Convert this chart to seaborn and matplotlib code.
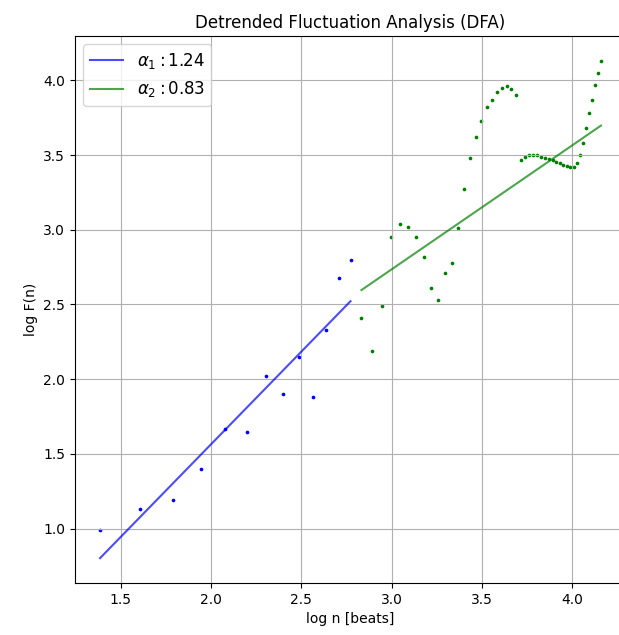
import numpy as np
import matplotlib
matplotlib.use("Agg")
import matplotlib.pyplot as plt
import seaborn as sns

# ---------------------------
# Data
# ---------------------------
# window sizes n, short range (alpha 1) and long range (alpha 2)
n_short = [4, 5, 6, 7, 8, 9, 10, 11, 12, 13, 14, 15, 16]
n_long = [17, 18, 19, 20, 21, 22, 23, 24, 25, 26, 27, 28, 29, 30, 31, 32,
          33, 34, 35, 36, 37, 38, 39, 40, 41, 42, 43, 44, 45, 46, 47, 48,
          49, 50, 51, 52, 53, 54, 55, 56, 57, 58, 59, 60, 61, 62, 63, 64]

logF_short = [0.99, 1.13, 1.19, 1.40, 1.67, 1.65, 2.02, 1.90, 2.15, 1.88,
              2.33, 2.68, 2.80]
logF_long = [2.41, 2.19, 2.49, 2.95, 3.04, 3.02, 2.95, 2.82, 2.61, 2.53,
             2.71, 2.78, 3.01, 3.27, 3.48, 3.62, 3.73, 3.82, 3.87, 3.92,
             3.95, 3.96, 3.94, 3.90, 3.47, 3.49, 3.50, 3.50, 3.50, 3.49,
             3.48, 3.475, 3.465, 3.455, 3.445, 3.435, 3.425, 3.42, 3.42,
             3.45, 3.50, 3.58, 3.68, 3.78, 3.87, 3.97, 4.05, 4.13]

# fitted scaling exponents (slope, intercept) as shown in the chart
alpha1 = 1.24
intercept1 = -0.916
alpha2 = 0.83
intercept2 = 0.245

x1 = np.log(n_short)
x2 = np.log(n_long)
y1 = np.array(logF_short)
y2 = np.array(logF_long)

# ---------------------------
# Plot
# ---------------------------
fig = plt.figure(figsize=(6.19, 6.35), dpi=100)
ax = fig.add_axes([75 / 619, 52 / 635, 551 / 619, 547 / 635])

sns.scatterplot(x=x1, y=y1, color="blue", s=7, linewidth=0, ax=ax)
sns.lineplot(x=x1, y=alpha1 * x1 + intercept1, color="blue", alpha=0.7,
             linewidth=1.5, label=rf"$\alpha_1: {alpha1:.2f}$", ax=ax)
sns.scatterplot(x=x2, y=y2, color="green", s=7, linewidth=0, ax=ax)
sns.lineplot(x=x2, y=alpha2 * x2 + intercept2, color="green", alpha=0.7,
             linewidth=1.5, label=rf"$\alpha_2: {alpha2:.2f}$", ax=ax)

ax.set_title("Detrended Fluctuation Analysis (DFA)")
ax.set_xlabel("log n [beats]")
ax.set_ylabel("log F(n)")
ax.grid(True)
ax.legend(loc="upper left", fontsize=12)

fig.savefig("out.png", dpi=100)
